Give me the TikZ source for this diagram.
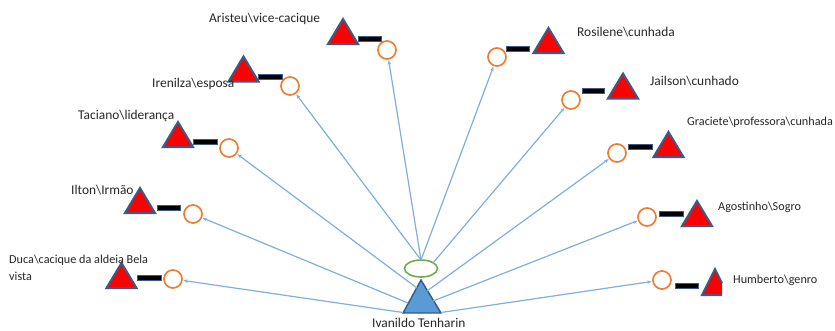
\documentclass[tikz,border=0pt]{standalone}
\usepackage{fontspec}
\setmainfont{Carlito}
\usetikzlibrary{arrows.meta}
\definecolor{lineblue}{HTML}{7EAFDE}
\definecolor{tribord}{HTML}{3A5B88}
\definecolor{ctrfill}{HTML}{5B9BD5}
\definecolor{ctrbord}{HTML}{2F5B8A}
\definecolor{circor}{HTML}{ED7D31}
\definecolor{ellgreen}{HTML}{70AD47}
\definecolor{txt}{HTML}{262626}
\tikzset{
  tristyle/.style={fill=red, draw=tribord, line width=2pt, line join=miter},
  barstyle/.style={fill=black, draw=tribord, line width=0.8pt},
  circ/.style={circle, draw=circor, fill=white, line width=1.7pt, minimum size=18pt, inner sep=0pt},
  arr/.style={draw=lineblue, line width=1.2pt, -{Stealth[length=4.5pt,width=3.5pt]}, shorten >=0.5pt},
  lbl/.style={anchor=west, inner sep=0pt, text=txt, font=\fontsize{13.4}{15}\selectfont},
  slbl/.style={anchor=west, inner sep=0pt, text=txt, font=\fontsize{12.2}{17}\selectfont, align=left},
  rtri/.pic={\path[tristyle] (-15,12.5) -- (0,-12.5) -- (15,12.5) -- cycle;}
}
\begin{document}
\begin{tikzpicture}[x=1pt,y=-1pt]
\useasboundingbox (0,0) rectangle (835,330);

% centre
\draw[ellgreen, line width=1.6pt, fill=white] (421,268.5) ellipse (16.5pt and 8.5pt);
\path[fill=ctrfill, draw=ctrbord, line width=1.4pt, line join=miter] (403,313) -- (421,280) -- (441,313) -- cycle;
\node[lbl] (ego) at (372,323) {Ivanildo Tenharin};

\coordinate (top) at (421,260);
\coordinate (sJ) at (433,263);
\coordinate (sG) at (427,291);
\coordinate (sA) at (433,301);
\coordinate (sH) at (441,312.5);
\coordinate (sT) at (417,288);
\coordinate (sI) at (408,303);
\coordinate (sD) at (403,312.5);

% triangles
\pic at (343,31.5) {rtri};
\pic at (243.5,69) {rtri};
\pic at (178,134.5) {rtri};
\pic at (140,200.5) {rtri};
\pic at (121.5,275.5) {rtri};
\pic at (548.5,40.5) {rtri};
\pic at (623,86) {rtri};
\pic at (668.5,144.5) {rtri};
\pic at (697,213.5) {rtri};
\path[fill=red] (702,295) -- (715,269) -- (722,283) -- (722,295) -- cycle;
\draw[tribord, line width=2pt] (722,295) -- (702,295) -- (715,269) -- (722,283);

% bars
\foreach \a/\b/\y in {358/381/39, 258/282/77, 193/217/142, 157/180/208, 137/161/278,
  506/529/49, 582/604/91, 628/652/147, 659/683/214, 675/698/286}
  \path[barstyle] (\a,\y-2.5) rectangle (\b,\y+2.5);

% circles
\node[circ] (cAr) at (387,50) {};
\node[circ] (cIr) at (290,86) {};
\node[circ] (cTa) at (229,148) {};
\node[circ] (cIl) at (193,214) {};
\node[circ] (cDu) at (173,279) {};
\node[circ] (cRo) at (497,57) {};
\node[circ] (cJa) at (571,100) {};
\node[circ] (cGr) at (617,153) {};
\node[circ] (cAg) at (647,217) {};
\node[circ] (cHu) at (662,280) {};

% labels
\node[lbl] (lAr) at (209,19) {Aristeu\textbackslash vice-cacique};
\node[lbl] (lIr) at (152,84) {Irenilza\textbackslash esposa};
\node[lbl] (lTa) at (78,116) {Taciano\textbackslash liderança};
\node[lbl] (lIl) at (71,190) {Ilton\textbackslash Irmão};
\node[slbl] (lDu) at (9,267.5) {Duca\textbackslash cacique da aldeia Bela\\vista};
\node[lbl] (lRo) at (577,32) {Rosilene\textbackslash cunhada};
\node[lbl] (lJa) at (650,81) {Jailson\textbackslash cunhado};
\node[slbl] (lGr) at (687,122) {Graciete\textbackslash professora\textbackslash cunhada};
\node[slbl] (lAg) at (718,207) {Agostinho\textbackslash Sogro};
\node[slbl] (lHu) at (733,280) {Humberto\textbackslash genro};

% connectors
\draw[arr] (top) -- (cAr);
\draw[arr] (top) -- (cIr);
\draw[arr] (sT) -- (cTa);
\draw[arr] (sI) -- (cIl);
\draw[arr] (sD) -- (cDu);
\draw[arr] (top) -- (cRo);
\draw[arr] (sJ) -- (cJa);
\draw[arr] (sG) -- (cGr);
\draw[arr] (sA) -- (cAg);
\draw[arr] (sH) -- (cHu);
\end{tikzpicture}
\end{document}
